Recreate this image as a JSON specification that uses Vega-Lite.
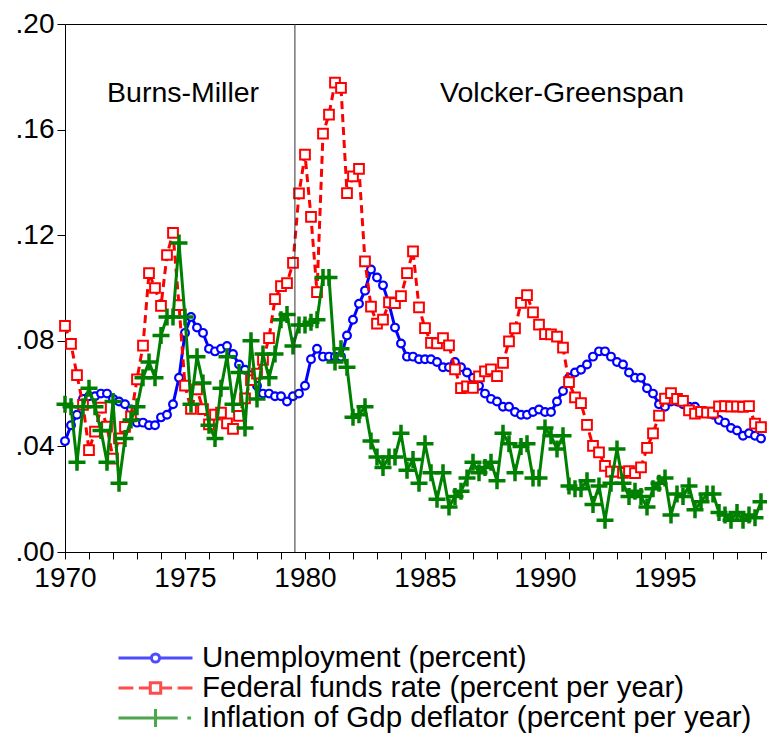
{
  "$schema": "https://vega.github.io/schema/vega-lite/v6.json",
  "autosize": "none",
  "padding": {"left": 65, "top": 24, "right": 0, "bottom": 185},
  "width": 702,
  "height": 528,
  "config": {
    "font": "Liberation Sans",
    "view": {"stroke": "black", "strokeWidth": 1},
    "axis": {"grid": false, "domainColor": "black", "tickColor": "black", "labelColor": "black", "labelFontSize": 28, "labelFont": "Liberation Sans", "title": null}
  },
  "datasets": {
    "macro": [
      {"t":1970.00,"u":0.042,"f":0.0857,"i":0.056},{"t":1970.25,"u":0.048,"f":0.0788,"i":0.055},{"t":1970.50,"u":0.052,"f":0.0670,"i":0.034},{"t":1970.75,"u":0.058,"f":0.0557,"i":0.055},
      {"t":1971.00,"u":0.059,"f":0.0386,"i":0.062},{"t":1971.25,"u":0.059,"f":0.0456,"i":0.055},{"t":1971.50,"u":0.060,"f":0.0547,"i":0.046},{"t":1971.75,"u":0.060,"f":0.0475,"i":0.034},
      {"t":1972.00,"u":0.058,"f":0.0354,"i":0.057},{"t":1972.25,"u":0.057,"f":0.0430,"i":0.026},{"t":1972.50,"u":0.056,"f":0.0474,"i":0.043},{"t":1972.75,"u":0.054,"f":0.0514,"i":0.050},
      {"t":1973.00,"u":0.049,"f":0.0654,"i":0.055},{"t":1973.25,"u":0.049,"f":0.0782,"i":0.066},{"t":1973.50,"u":0.048,"f":0.1056,"i":0.072},{"t":1973.75,"u":0.048,"f":0.1000,"i":0.066},
      {"t":1974.00,"u":0.051,"f":0.0932,"i":0.082},{"t":1974.25,"u":0.052,"f":0.1125,"i":0.089},{"t":1974.50,"u":0.056,"f":0.1209,"i":0.089},{"t":1974.75,"u":0.066,"f":0.0935,"i":0.117},
      {"t":1975.00,"u":0.083,"f":0.0630,"i":0.089},{"t":1975.25,"u":0.089,"f":0.0542,"i":0.056},{"t":1975.50,"u":0.085,"f":0.0616,"i":0.074},{"t":1975.75,"u":0.083,"f":0.0541,"i":0.064},
      {"t":1976.00,"u":0.077,"f":0.0483,"i":0.048},{"t":1976.25,"u":0.076,"f":0.0520,"i":0.043},{"t":1976.50,"u":0.077,"f":0.0528,"i":0.062},{"t":1976.75,"u":0.078,"f":0.0487,"i":0.074},
      {"t":1977.00,"u":0.075,"f":0.0466,"i":0.056},{"t":1977.25,"u":0.071,"f":0.0516,"i":0.068},{"t":1977.50,"u":0.069,"f":0.0582,"i":0.047},{"t":1977.75,"u":0.067,"f":0.0651,"i":0.080},
      {"t":1978.00,"u":0.063,"f":0.0676,"i":0.058},{"t":1978.25,"u":0.060,"f":0.0728,"i":0.075},{"t":1978.50,"u":0.060,"f":0.0810,"i":0.066},{"t":1978.75,"u":0.059,"f":0.0958,"i":0.075},
      {"t":1979.00,"u":0.059,"f":0.1007,"i":0.088},{"t":1979.25,"u":0.057,"f":0.1018,"i":0.090},{"t":1979.50,"u":0.059,"f":0.1095,"i":0.078},{"t":1979.75,"u":0.060,"f":0.1358,"i":0.086},
      {"t":1980.00,"u":0.063,"f":0.1505,"i":0.086},{"t":1980.25,"u":0.073,"f":0.1269,"i":0.087},{"t":1980.50,"u":0.077,"f":0.0984,"i":0.088},{"t":1980.75,"u":0.074,"f":0.1585,"i":0.104},
      {"t":1981.00,"u":0.074,"f":0.1657,"i":0.104},{"t":1981.25,"u":0.074,"f":0.1778,"i":0.072},{"t":1981.50,"u":0.074,"f":0.1758,"i":0.077},{"t":1981.75,"u":0.082,"f":0.1359,"i":0.070},
      {"t":1982.00,"u":0.088,"f":0.1423,"i":0.051},{"t":1982.25,"u":0.094,"f":0.1451,"i":0.052},{"t":1982.50,"u":0.099,"f":0.1101,"i":0.055},{"t":1982.75,"u":0.107,"f":0.0929,"i":0.042},
      {"t":1983.00,"u":0.104,"f":0.0865,"i":0.036},{"t":1983.25,"u":0.101,"f":0.0880,"i":0.032},{"t":1983.50,"u":0.094,"f":0.0946,"i":0.036},{"t":1983.75,"u":0.085,"f":0.0943,"i":0.036},
      {"t":1984.00,"u":0.079,"f":0.0969,"i":0.045},{"t":1984.25,"u":0.074,"f":0.1056,"i":0.031},{"t":1984.50,"u":0.074,"f":0.1139,"i":0.035},{"t":1984.75,"u":0.073,"f":0.0927,"i":0.026},
      {"t":1985.00,"u":0.073,"f":0.0848,"i":0.041},{"t":1985.25,"u":0.073,"f":0.0792,"i":0.030},{"t":1985.50,"u":0.072,"f":0.0790,"i":0.020},{"t":1985.75,"u":0.070,"f":0.0810,"i":0.030},
      {"t":1986.00,"u":0.070,"f":0.0783,"i":0.017},{"t":1986.25,"u":0.072,"f":0.0692,"i":0.021},{"t":1986.50,"u":0.070,"f":0.0621,"i":0.023},{"t":1986.75,"u":0.068,"f":0.0627,"i":0.028},
      {"t":1987.00,"u":0.066,"f":0.0622,"i":0.034},{"t":1987.25,"u":0.063,"f":0.0665,"i":0.030},{"t":1987.50,"u":0.060,"f":0.0684,"i":0.032},{"t":1987.75,"u":0.058,"f":0.0692,"i":0.034},
      {"t":1988.00,"u":0.057,"f":0.0666,"i":0.027},{"t":1988.25,"u":0.055,"f":0.0716,"i":0.045},{"t":1988.50,"u":0.055,"f":0.0798,"i":0.041},{"t":1988.75,"u":0.053,"f":0.0847,"i":0.030},
      {"t":1989.00,"u":0.052,"f":0.0944,"i":0.040},{"t":1989.25,"u":0.052,"f":0.0973,"i":0.041},{"t":1989.50,"u":0.053,"f":0.0908,"i":0.028},{"t":1989.75,"u":0.054,"f":0.0861,"i":0.028},
      {"t":1990.00,"u":0.053,"f":0.0825,"i":0.047},{"t":1990.25,"u":0.053,"f":0.0824,"i":0.044},{"t":1990.50,"u":0.057,"f":0.0816,"i":0.039},{"t":1990.75,"u":0.061,"f":0.0774,"i":0.044},
      {"t":1991.00,"u":0.066,"f":0.0643,"i":0.025},{"t":1991.25,"u":0.068,"f":0.0586,"i":0.024},{"t":1991.50,"u":0.069,"f":0.0564,"i":0.024},{"t":1991.75,"u":0.071,"f":0.0482,"i":0.027},
      {"t":1992.00,"u":0.074,"f":0.0402,"i":0.018},{"t":1992.25,"u":0.076,"f":0.0377,"i":0.025},{"t":1992.50,"u":0.076,"f":0.0326,"i":0.012},{"t":1992.75,"u":0.074,"f":0.0304,"i":0.026},
      {"t":1993.00,"u":0.072,"f":0.0304,"i":0.039},{"t":1993.25,"u":0.071,"f":0.0300,"i":0.026},{"t":1993.50,"u":0.068,"f":0.0306,"i":0.021},{"t":1993.75,"u":0.066,"f":0.0299,"i":0.023},
      {"t":1994.00,"u":0.066,"f":0.0321,"i":0.021},{"t":1994.25,"u":0.062,"f":0.0394,"i":0.017},{"t":1994.50,"u":0.060,"f":0.0449,"i":0.024},{"t":1994.75,"u":0.056,"f":0.0517,"i":0.026},
      {"t":1995.00,"u":0.055,"f":0.0581,"i":0.028},{"t":1995.25,"u":0.057,"f":0.0602,"i":0.014},{"t":1995.50,"u":0.057,"f":0.0580,"i":0.022},{"t":1995.75,"u":0.056,"f":0.0572,"i":0.021},
      {"t":1996.00,"u":0.055,"f":0.0536,"i":0.025},{"t":1996.25,"u":0.055,"f":0.0524,"i":0.016},{"t":1996.50,"u":0.053,"f":0.0531,"i":0.019},{"t":1996.75,"u":0.053,"f":0.0528,"i":0.022},
      {"t":1997.00,"u":0.052,"f":0.0528,"i":0.022},{"t":1997.25,"u":0.050,"f":0.0552,"i":0.015},{"t":1997.50,"u":0.049,"f":0.0553,"i":0.014},{"t":1997.75,"u":0.047,"f":0.0551,"i":0.012},
      {"t":1998.00,"u":0.046,"f":0.0552,"i":0.015},{"t":1998.25,"u":0.044,"f":0.0550,"i":0.012},{"t":1998.50,"u":0.045,"f":0.0553,"i":0.014},{"t":1998.75,"u":0.044,"f":0.0486,"i":0.013},
      {"t":1999.00,"u":0.043,"f":0.0473,"i":0.019}
    ],
    "notes": [
      {"t": 1974.92, "v": 0.174, "label": "Burns-Miller"},
      {"t": 1990.71, "v": 0.174, "label": "Volcker-Greenspan"}
    ],
    "regime": [{"t": 1979.58}]
  },
  "data": {"name": "macro"},
  "encoding": {
    "x": {"field": "t", "type": "quantitative",
      "scale": {"domain": [1970, 1999.25], "nice": false, "zero": false},
      "axis": {"values": [1970,1971,1972,1973,1974,1975,1976,1977,1978,1979,1980,1981,1982,1983,1984,1985,1986,1987,1988,1989,1990,1991,1992,1993,1994,1995,1996,1997,1998,1999],
        "labelExpr": "datum.value % 5 == 0 ? format(datum.value, 'd') : ''", "tickSize": 7, "labelPadding": 5, "labelFlush": false, "labelOverlap": false}}
  },
  "layer": [
    {"mark": {"type": "line", "color": "#0000FF", "strokeWidth": 3},
     "encoding": {"y": {"field": "u", "type": "quantitative", "scale": {"domain": [0, 0.2], "nice": false},
       "axis": {"values": [0, 0.04, 0.08, 0.12, 0.16, 0.2], "labelExpr": "replace(format(datum.value, '.2f'), '0.', '.')", "tickSize": 8, "labelPadding": 3}}}},
    {"mark": {"type": "point", "shape": "circle", "filled": true, "fill": "white", "stroke": "#0000FF", "strokeWidth": 2.2, "size": 60, "opacity": 1},
     "encoding": {"y": {"field": "u", "type": "quantitative"}}},
    {"mark": {"type": "line", "color": "#FF0000", "strokeWidth": 3, "strokeDash": [8, 5]},
     "encoding": {"y": {"field": "f", "type": "quantitative"}}},
    {"mark": {"type": "point", "shape": "square", "filled": true, "fill": "white", "stroke": "#FF0000", "strokeWidth": 2, "size": 95, "opacity": 1},
     "encoding": {"y": {"field": "f", "type": "quantitative"}}},
    {"mark": {"type": "line", "color": "#008000", "strokeWidth": 3},
     "encoding": {"y": {"field": "i", "type": "quantitative"}}},
    {"mark": {"type": "point", "shape": "M-1,0H1M0,-1V1", "filled": false, "stroke": "#008000", "strokeWidth": 3.5, "size": 289, "opacity": 1},
     "encoding": {"y": {"field": "i", "type": "quantitative"}}},
    {"data": {"name": "regime"},
     "mark": {"type": "rule", "color": "#333333", "strokeWidth": 1},
     "encoding": {"x": {"field": "t", "type": "quantitative"}}},
    {"data": {"name": "notes"},
     "mark": {"type": "text", "fontSize": 28.5, "font": "Liberation Sans", "color": "black", "baseline": "middle", "align": "center"},
     "encoding": {"y": {"field": "v", "type": "quantitative"}, "text": {"field": "label"}}},
    {"data": {"values": []},
     "mark": {"type": "point", "filled": false},
     "encoding": {
       "color": {"field": "series", "type": "nominal",
         "scale": {"domain": ["u", "f", "i"], "range": ["#0000FF", "#FF0000", "#008000"]},
         "legend": {"orient": "none", "legendX": 52, "legendY": 619, "direction": "vertical", "title": null,
           "symbolSize": 5476, "symbolStrokeWidth": 3, "clipHeight": 30, "rowPadding": 0, "padding": 0,
           "labelFontSize": 29.5, "labelFont": "Liberation Sans", "labelColor": "black", "labelOffset": 8, "labelLimit": 700,
           "labelExpr": "datum.value == 'u' ? 'Unemployment (percent)' : datum.value == 'f' ? 'Federal funds rate (percent per year)' : 'Inflation of Gdp deflator (percent per year)'"}},
       "shape": {"field": "series", "type": "nominal",
         "scale": {"domain": ["u", "f", "i"], "range": [
           "M-1,0H-0.11M0.11,0H1M0.11,0A0.11,0.11 0 1 1 -0.11,0A0.11,0.11 0 1 1 0.11,0",
           "M-1,0H-0.6M-0.45,0H-0.17M-0.14,-0.14H0.14V0.14H-0.14ZM0.17,0H0.45M0.6,0H1",
           "M-1,0H0.6M0,-0.24V0.24M0.86,0H0.96"]}}
     }}
  ]
}
